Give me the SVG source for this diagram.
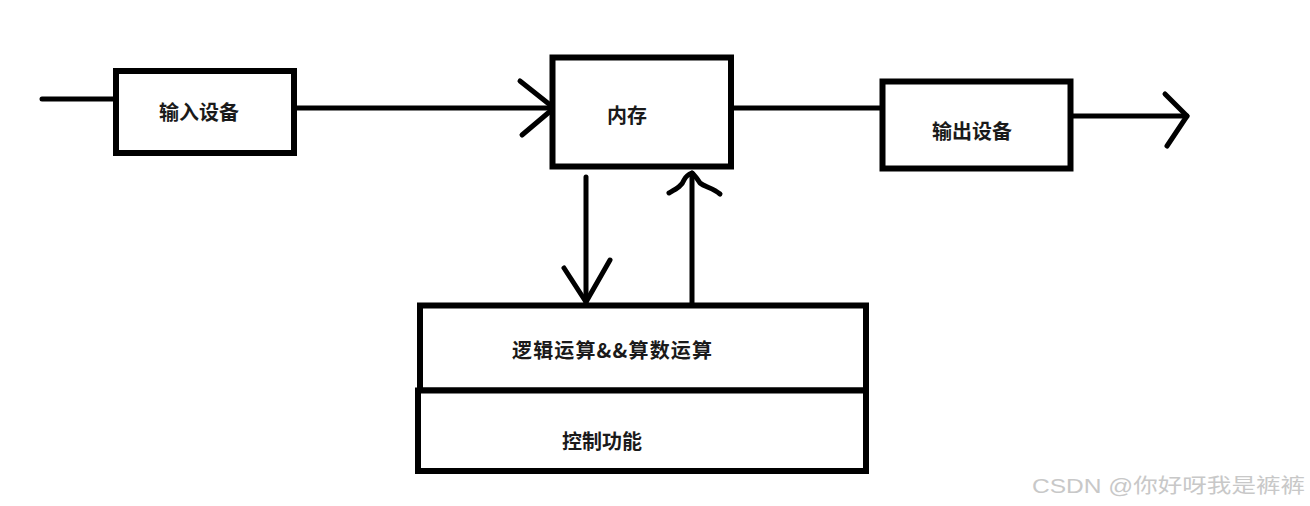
<svg xmlns="http://www.w3.org/2000/svg" width="1310" height="506" viewBox="0 0 1310 506">
<style>
.box{fill:#fff;stroke:#000;stroke-width:6}
.ln{fill:none;stroke:#000;stroke-width:5;stroke-linecap:round;stroke-linejoin:round}
.t{font-family:"Noto Sans CJK SC","Noto Sans",sans-serif;font-weight:bold;font-size:20px;fill:#1a1a1a;text-anchor:middle;dominant-baseline:central}
.wm{font-family:"Liberation Sans","Noto Sans CJK SC",sans-serif;font-size:20px;fill:#c8c8c8}
</style>
<rect width="1310" height="506" fill="#fff"/>
<g id="connectors">
<line class="ln" x1="42" y1="99" x2="116" y2="99"/>
<line class="ln" x1="297" y1="108" x2="554" y2="108"/>
<polyline class="ln" points="520,81 554,108 522,135"/>
<line class="ln" x1="733" y1="108" x2="880" y2="108"/>
<line class="ln" x1="1064" y1="116" x2="1187" y2="116"/>
<polyline class="ln" points="1165,94 1187,116 1167,146"/>
<line class="ln" x1="586" y1="177" x2="586" y2="303"/>
<polyline class="ln" points="564,268 586,302 610,260"/>
<line class="ln" x1="692" y1="303" x2="692" y2="173"/>
<path class="ln" d="M669,193 C676,189 682,186 684,180 C686,176 689,174 692,173 C695,175 697,179 700,183 C705,187 713,188 720,194"/>
</g>
<g id="input">
<rect class="box" x="116" y="71" width="178" height="82"/>
<text class="t" x="199" y="111">输入设备</text>
</g>
<g id="memory">
<rect class="box" x="552.5" y="57.5" width="178.5" height="109"/>
<text class="t" x="627" y="114">内存</text>
</g>
<g id="output">
<rect class="box" x="882.5" y="81.5" width="188" height="87"/>
<text class="t" x="972" y="130">输出设备</text>
</g>
<g id="alu">
<rect class="box" x="420" y="305.5" width="446" height="85"/>
<text class="t" x="612" y="349" textLength="200" lengthAdjust="spacing">逻辑运算&amp;&amp;算数运算</text>
</g>
<g id="control">
<rect class="box" x="418" y="390.5" width="448" height="80.5"/>
<text class="t" x="602" y="440">控制功能</text>
</g>
<text class="wm" x="1032" y="493" textLength="273" lengthAdjust="spacingAndGlyphs">CSDN @你好呀我是裤裤</text>
</svg>
